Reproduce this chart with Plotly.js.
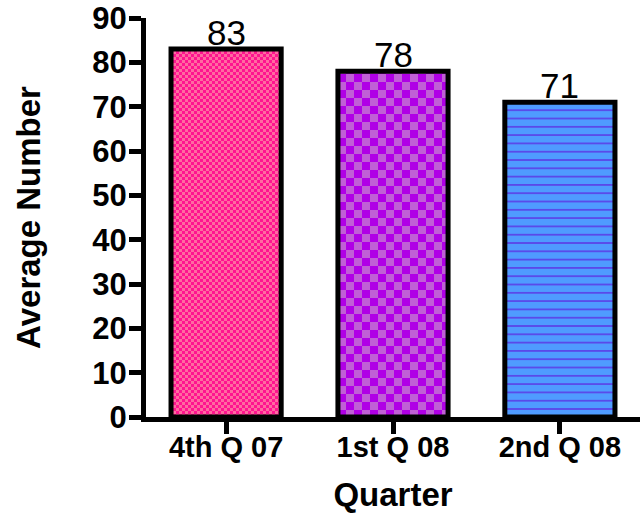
<!DOCTYPE html>
<html>
<head>
<meta charset="utf-8">
<script src="https://cdn.plot.ly/plotly-3.0.1.min.js"></script>
<style>
  html, body { margin: 0; padding: 0; background: #ffffff; }
  #chart { width: 640px; height: 513px; }
</style>
</head>
<body>
<div id="chart"></div>
<script>
// ---- data ----
const categories = ['4th Q 07', '1st Q 08', '2nd Q 08'];
const values = [83, 78, 71];
const valueLabels = ['83', '78', '71'];
const yTickValues = [0, 10, 20, 30, 40, 50, 60, 70, 80, 90];

// ---- styles ----
const FONT = 'Liberation Sans, Arial, Helvetica, sans-serif';
const baseColors = ['#ff1493', '#b000e8', '#4f9bff'];

const trace = {
  type: 'bar',
  x: categories,
  y: values,
  width: 0.66,
  marker: { color: baseColors, line: { color: '#000000', width: 5 } },
  hoverinfo: 'none',
  cliponaxis: false
};

const annotations = categories.map((c, i) => ({
  x: c, y: values[i], xref: 'x', yref: 'y',
  text: valueLabels[i], showarrow: false,
  yanchor: 'bottom', xanchor: 'center', yshift: -5,
  font: { family: FONT, size: 35, color: '#000000' }
}));

const layout = {
  width: 640, height: 513,
  margin: { l: 146, r: 0, t: 18, b: 96 },
  paper_bgcolor: '#ffffff', plot_bgcolor: '#ffffff',
  showlegend: false,
  font: { family: FONT, color: '#000000' },
  xaxis: {
    type: 'category',
    range: [-0.48, 2.48],
    showline: true, linecolor: '#000000', linewidth: 5,
    ticks: 'outside', ticklen: 12, tickwidth: 5, tickcolor: '#000000',
    ticklabelstandoff: -12,
    showgrid: false, zeroline: false,
    tickfont: { family: FONT, size: 29, weight: 'bold', color: '#000000' },
    title: { text: 'Quarter', font: { family: FONT, size: 33, weight: 'bold', color: '#000000' }, standoff: 23 }
  },
  yaxis: {
    range: [0, 90],
    tickvals: yTickValues,
    ticktext: yTickValues.map(String),
    showline: true, linecolor: '#000000', linewidth: 5,
    ticks: 'outside', ticklen: 12, tickwidth: 5, tickcolor: '#000000',
    ticklabelstandoff: -4,
    ticklabeloverflow: 'allow',
    showgrid: false, zeroline: false,
    tickfont: { family: FONT, size: 31, weight: 'bold', color: '#000000' },
    title: { text: 'Average Number', font: { family: FONT, size: 33, weight: 'bold', color: '#000000' }, standoff: 43 }
  },
  annotations: annotations
};

function addPatterns(gd) {
  const NS = 'http://www.w3.org/2000/svg';
  const svg = gd.querySelector('svg.main-svg');
  let defs = svg.querySelector('defs');
  if (!defs) { defs = document.createElementNS(NS, 'defs'); svg.insertBefore(defs, svg.firstChild); }
  function rect(p, x, y, w, h, fill) {
    const r = document.createElementNS(NS, 'rect');
    r.setAttribute('x', x); r.setAttribute('y', y);
    r.setAttribute('width', w); r.setAttribute('height', h);
    r.setAttribute('fill', fill);
    p.appendChild(r);
  }
  function pattern(id, w, h) {
    const p = document.createElementNS(NS, 'pattern');
    p.setAttribute('id', id);
    p.setAttribute('patternUnits', 'userSpaceOnUse');
    p.setAttribute('width', w); p.setAttribute('height', h);
    defs.appendChild(p);
    return p;
  }
  // pink fine checkerboard
  const p1 = pattern('pat-pink', 6, 6);
  rect(p1, 0, 0, 6, 6, '#ff1490');
  rect(p1, 0, 0, 3, 3, '#ff6aa0');
  rect(p1, 3, 3, 3, 3, '#ff6aa0');
  // purple coarse checkerboard
  const p2 = pattern('pat-purple', 16, 16);
  rect(p2, 0, 0, 16, 16, '#b000e6');
  rect(p2, 0, 0, 8, 8, '#c060d6');
  rect(p2, 8, 8, 8, 8, '#c060d6');
  // blue horizontal lines
  const p3 = pattern('pat-blue', 8, 8.3);
  rect(p3, 0, 0, 8, 8.3, '#4f9bff');
  rect(p3, 0, 0, 8, 1.8, '#5a48ea');
  const ids = ['pat-pink', 'pat-purple', 'pat-blue'];
  const paths = gd.querySelectorAll('.barlayer .point path');
  paths.forEach((p, i) => { if (ids[i]) p.style.fill = 'url(#' + ids[i] + ')'; });
}

Plotly.newPlot('chart', [trace], layout, { staticPlot: true, displayModeBar: false })
  .then(addPatterns);
</script>
</body>
</html>
